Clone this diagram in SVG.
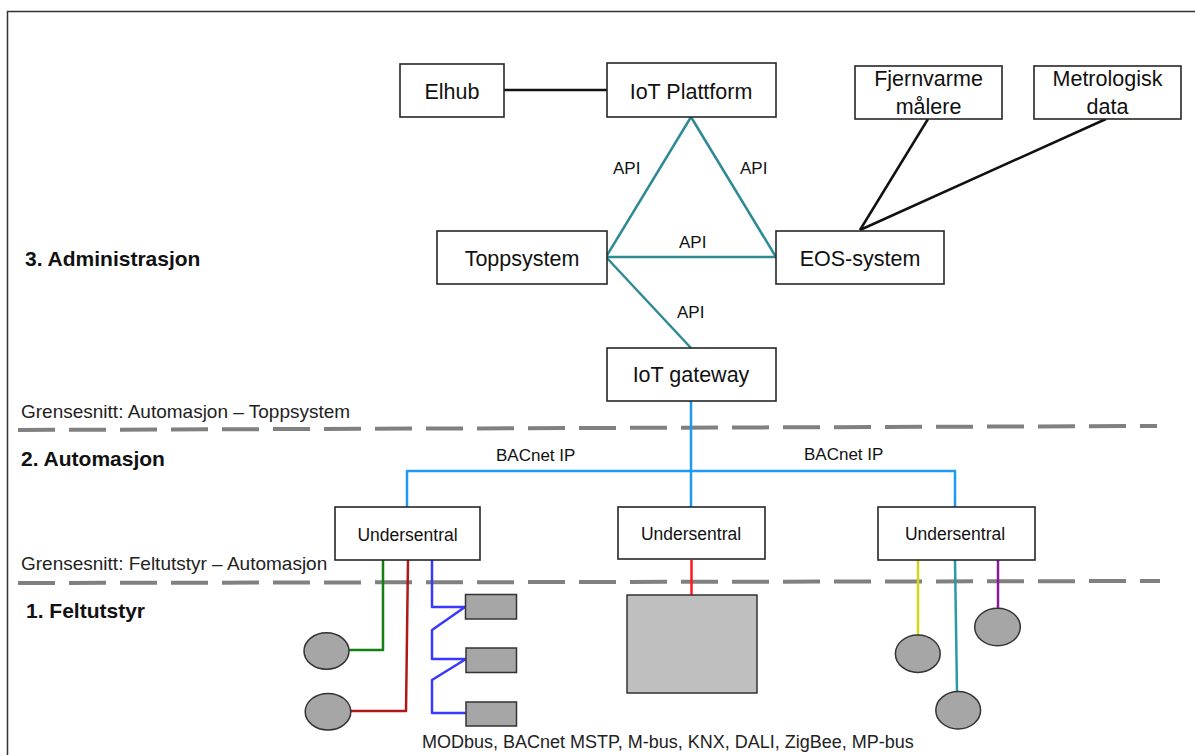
<svg xmlns="http://www.w3.org/2000/svg" width="1195" height="755" viewBox="0 0 1195 755">
<style>
.box{fill:#fff;stroke:#262626;stroke-width:1.6}
.t{font-family:"Liberation Sans",Arial,sans-serif;fill:#111;text-anchor:middle}
.n{font-size:21.5px}
.s{font-size:17.5px}
.lbl{font-family:"Liberation Sans",Arial,sans-serif;fill:#111;font-size:17px}
.h{font-family:"Liberation Sans",Arial,sans-serif;fill:#111;font-size:21px;font-weight:bold}
.g{font-family:"Liberation Sans",Arial,sans-serif;fill:#222;font-size:19px}
.dash{stroke:#808080;stroke-width:4;stroke-dasharray:37 14;fill:none}
.dev{fill:#a6a6a6;stroke:#333;stroke-width:1.5}
.c{fill:none;stroke-width:2.5;stroke-linejoin:round}
</style>
<rect x="7.5" y="11.5" width="1200" height="760" fill="#fff" stroke="#333" stroke-width="1.5"/>

<g id="layers">
<text class="h" x="25" y="266">3. Administrasjon</text>
<text class="h" x="21" y="466">2. Automasjon</text>
<text class="h" x="26" y="618">1. Feltutstyr</text>
<text class="g" x="21" y="418">Grensesnitt: Automasjon – Toppsystem</text>
<text class="g" x="21" y="570">Grensesnitt: Feltutstyr – Automasjon</text>
<line class="dash" x1="18" y1="430" x2="1157" y2="426"/>
<line class="dash" x1="18" y1="583" x2="1160" y2="581"/>
</g>

<g id="connectors">
<line class="c" stroke="#111" x1="504" y1="90" x2="607" y2="90"/>
<polygon class="c" stroke="#2e8a93" points="691,117 606,257 776,257"/>
<line class="c" stroke="#2e8a93" x1="606" y1="257" x2="691" y2="348"/>
<line class="c" stroke="#111" x1="928" y1="119" x2="860" y2="230"/>
<line class="c" stroke="#111" x1="1106" y1="119" x2="860" y2="230"/>
<polyline class="c" stroke="#1e9af5" points="407,507 407,471 955,471 955,507"/>
<line class="c" stroke="#1e9af5" x1="691" y1="401" x2="691" y2="507"/>
<polyline class="c" stroke="#118011" points="383,560 383,650 349,650"/>
<polyline class="c" stroke="#b01818" points="408,560 406,711 351,711"/>
<polyline class="c" stroke="#3838ff" points="432,560 432,607 465,607 432,630 432,659 466,659 432,680 432,713 466,713"/>
<line class="c" stroke="#ff1a1a" x1="691.5" y1="560" x2="691.5" y2="595"/>
<line class="c" stroke="#d4d41a" x1="918" y1="560" x2="918" y2="635"/>
<polyline class="c" stroke="#2a9aa5" points="955,560 957,692"/>
<line class="c" stroke="#8b1a9b" x1="998" y1="560" x2="998" y2="608"/>
<text class="lbl" x="613" y="174">API</text>
<text class="lbl" x="740" y="174">API</text>
<text class="lbl" x="679" y="248">API</text>
<text class="lbl" x="677" y="318">API</text>
<text class="lbl" x="496" y="461">BACnet IP</text>
<text class="lbl" x="804" y="460">BACnet IP</text>
</g>

<g id="elhub"><rect class="box" x="400" y="64" width="104" height="53"/><text class="t n" x="452" y="99">Elhub</text></g>
<g id="iot-plattform"><rect class="box" x="607" y="63" width="169" height="54"/><text class="t n" x="691" y="99">IoT Plattform</text></g>
<g id="fjernvarme"><rect class="box" x="855" y="66" width="147" height="53"/><text class="t n" x="928.5" y="86">Fjernvarme</text><text class="t n" x="928.5" y="114">målere</text></g>
<g id="metrologisk"><rect class="box" x="1034" y="66" width="147" height="53"/><text class="t n" x="1107.5" y="86">Metrologisk</text><text class="t n" x="1107.5" y="114">data</text></g>
<g id="toppsystem"><rect class="box" x="437" y="231" width="170" height="53"/><text class="t n" x="522" y="266">Toppsystem</text></g>
<g id="eos-system"><rect class="box" x="776" y="231" width="168" height="53"/><text class="t n" x="860" y="266">EOS-system</text></g>
<g id="iot-gateway"><rect class="box" x="607" y="348" width="169" height="53"/><text class="t n" x="691" y="382">IoT gateway</text></g>
<g id="undersentral-1"><rect class="box" x="335" y="507" width="145" height="53"/><text class="t s" x="407.5" y="541">Undersentral</text></g>
<g id="undersentral-2"><rect class="box" x="618" y="507" width="147" height="52"/><text class="t s" x="691" y="540">Undersentral</text></g>
<g id="undersentral-3"><rect class="box" x="878" y="507" width="157" height="53"/><text class="t s" x="955" y="540">Undersentral</text></g>

<g id="field-devices">
<ellipse class="dev" cx="326.5" cy="651" rx="22.5" ry="18.3"/>
<ellipse class="dev" cx="328" cy="711.7" rx="22.8" ry="18.3"/>
<rect class="dev" x="465.5" y="594.5" width="51" height="24.5"/>
<rect class="dev" x="466" y="648" width="50.5" height="24.5"/>
<rect class="dev" x="466" y="702" width="50.5" height="24"/>
<rect x="627" y="595" width="130" height="98" fill="#bfbfbf" stroke="#333" stroke-width="1.5"/>
<ellipse class="dev" cx="917.8" cy="653.7" rx="22.4" ry="18.7"/>
<ellipse class="dev" cx="958.2" cy="710.3" rx="22.4" ry="18.7"/>
<ellipse class="dev" cx="997.5" cy="627" rx="22.8" ry="18.7"/>
</g>
<text class="g" x="422" y="748" style="font-size:18px">MODbus, BACnet MSTP, M-bus, KNX, DALI, ZigBee, MP-bus</text>
</svg>
